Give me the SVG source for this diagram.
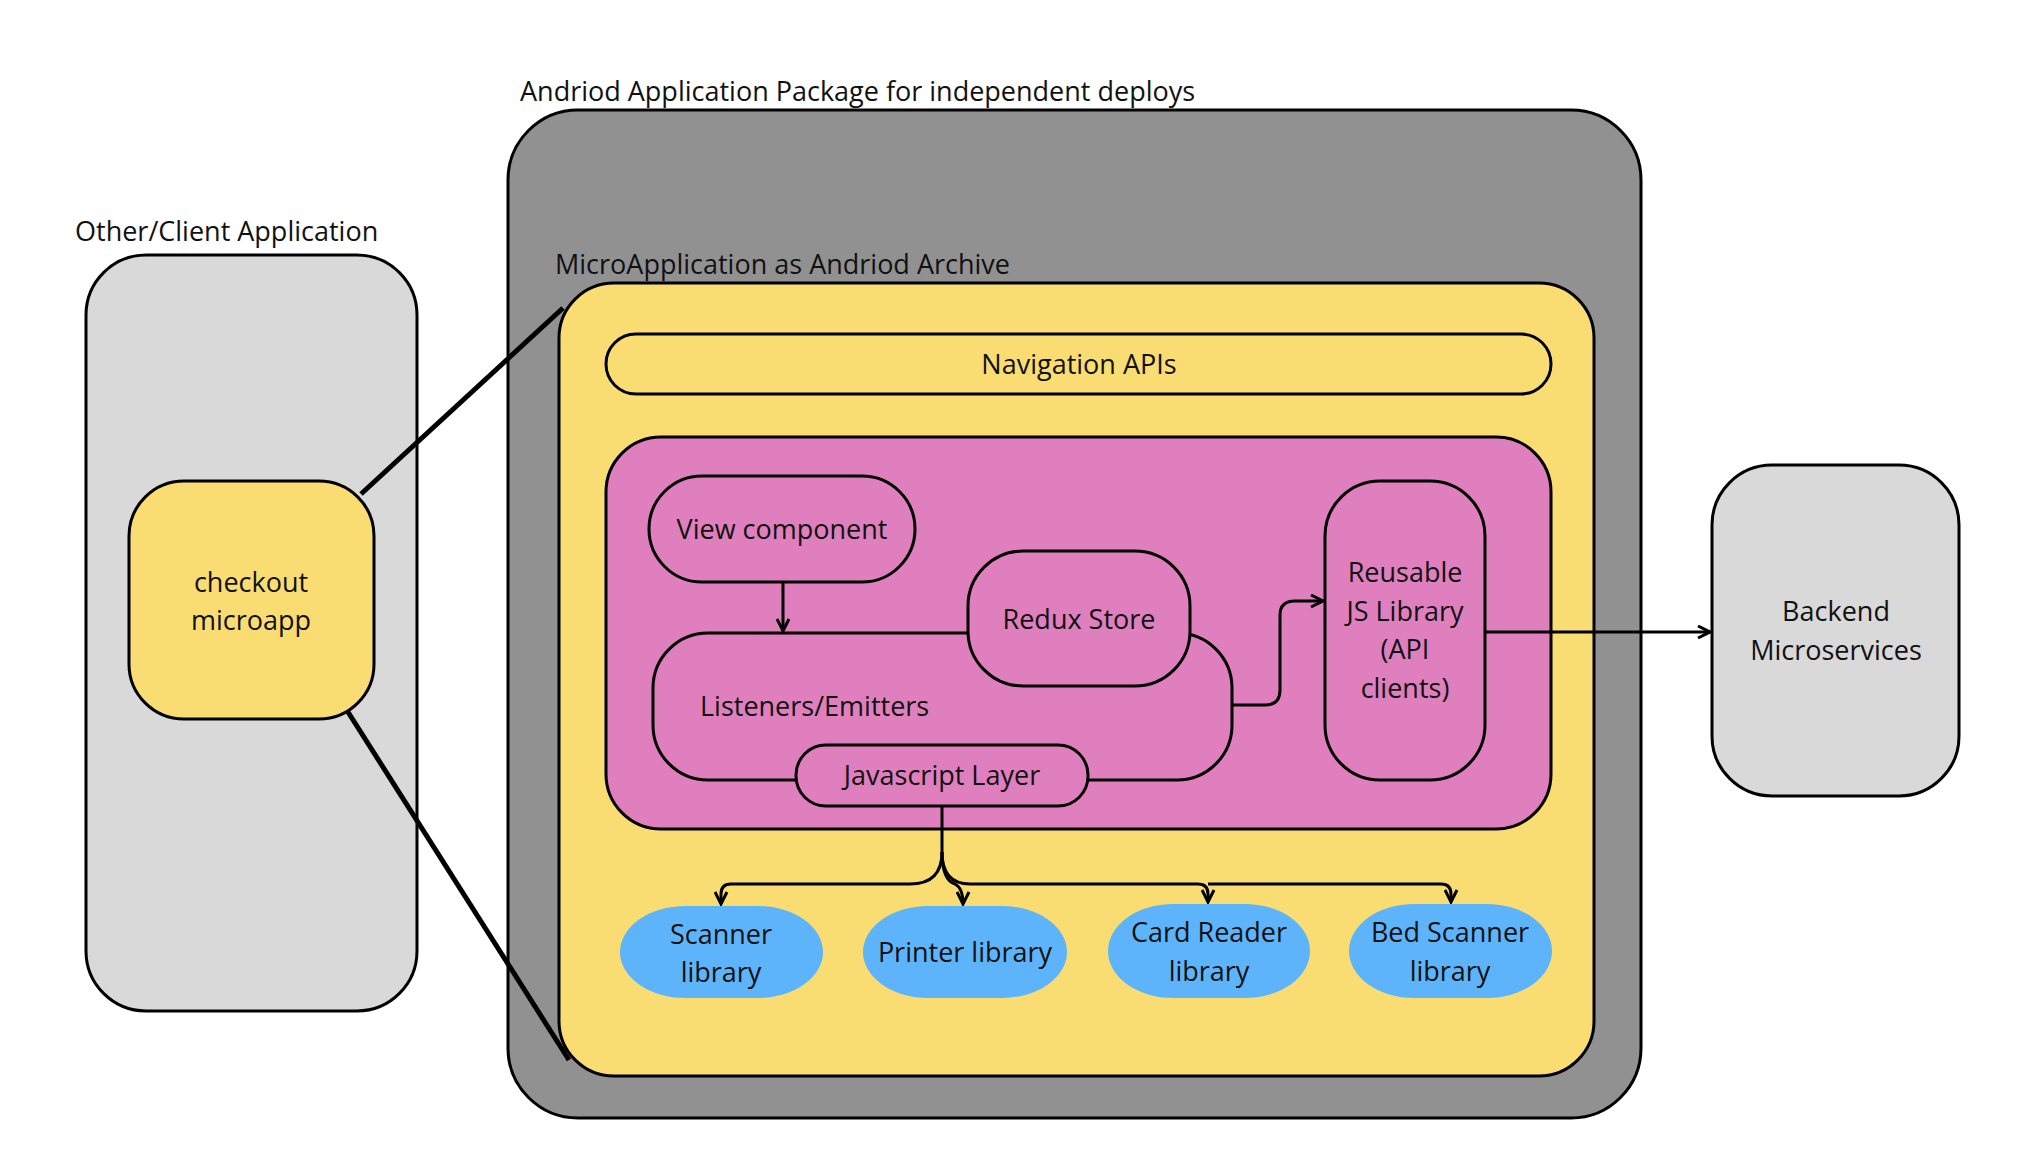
<svg xmlns="http://www.w3.org/2000/svg" width="2028" height="1176" viewBox="0 0 2028 1176">
<style>
text{font-family:"Open Sans","Liberation Sans",sans-serif;font-size:27px;fill:#111}
.c{text-anchor:middle}
.b{stroke:#000;stroke-width:3}
.ln{fill:none;stroke:#000;stroke-width:3}
</style>
<defs><marker id="a" viewBox="0 0 10 10" refX="9" refY="5" markerWidth="5" markerHeight="5" orient="auto"><path d="M1,1 L9,5 L1,9" fill="none" stroke="#000" stroke-width="2"/></marker></defs>
<rect width="2028" height="1176" fill="#fff"/>
<g id="client"><rect class="b" x="86" y="255" width="331" height="756" rx="60" fill="#d9d9d9"/><text x="75" y="241">Other/Client Application</text></g>
<g id="apk"><rect class="b" x="508" y="110" width="1133" height="1008" rx="70" fill="#919191"/><text x="520" y="101">Andriod Application Package for independent deploys</text></g>
<g id="aar"><rect class="b" x="559" y="283" width="1035" height="793" rx="55" fill="#f9dd72"/><text x="555" y="274">MicroApplication as Andriod Archive</text></g>
<g id="nav"><rect class="b" x="606" y="334" width="945" height="60" rx="30" fill="#f9dd72"/><text class="c" x="1079" y="374">Navigation APIs</text></g>
<g id="js-container"><rect class="b" x="606" y="437" width="945" height="392" rx="55" fill="#e07fbd"/></g>
<g id="listeners"><rect class="b" x="653" y="633" width="579" height="147" rx="55" fill="#e07fbd"/><text x="700" y="716">Listeners/Emitters</text></g>
<g id="view"><rect class="b" x="649" y="476" width="266" height="106" rx="53" fill="#e07fbd"/><text class="c" x="782" y="539">View component</text></g>
<g id="redux"><rect class="b" x="968" y="551" width="222" height="135" rx="55" fill="#e07fbd"/><text class="c" x="1079" y="629">Redux Store</text></g>
<g id="jslayer"><rect class="b" x="796" y="745" width="292" height="61" rx="30" fill="#e07fbd"/><text class="c" x="942" y="785">Javascript Layer</text></g>
<g id="reusable"><rect class="b" x="1325" y="481" width="160" height="299" rx="55" fill="#e07fbd"/><text class="c" x="1405" y="582">Reusable</text><text class="c" x="1405" y="621">JS Library</text><text class="c" x="1405" y="659">(API</text><text class="c" x="1405" y="698">clients)</text></g>
<g id="backend"><rect class="b" x="1712" y="465" width="247" height="331" rx="60" fill="#d9d9d9"/><text class="c" x="1836" y="621">Backend</text><text class="c" x="1836" y="660">Microservices</text></g>
<g id="checkout"><rect class="b" x="129" y="481" width="245" height="238" rx="55" fill="#f9dd72"/><text class="c" x="251" y="592">checkout</text><text class="c" x="251" y="630">microapp</text></g>
<g id="scanner"><rect x="620" y="906" width="203" height="92" rx="65" fill="#5db4fa"/><text class="c" x="721" y="944">Scanner</text><text class="c" x="721" y="982">library</text></g>
<g id="printer"><rect x="863" y="906" width="204" height="92" rx="65" fill="#5db4fa"/><text class="c" x="965" y="962">Printer library</text></g>
<g id="card"><rect x="1108" y="904" width="202" height="94" rx="65" fill="#5db4fa"/><text class="c" x="1209" y="942">Card Reader</text><text class="c" x="1209" y="981">library</text></g>
<g id="bed"><rect x="1349" y="904" width="203" height="94" rx="65" fill="#5db4fa"/><text class="c" x="1450" y="942">Bed Scanner</text><text class="c" x="1450" y="981">library</text></g>
<g id="connectors">
<path d="M361,494 L563,308" fill="none" stroke="#000" stroke-width="5"/>
<path d="M348,712 L569,1060" fill="none" stroke="#000" stroke-width="5"/>
<path class="ln" d="M783,582 V631" marker-end="url(#a)"/>
<path class="ln" d="M1232,705 H1265 Q1280,705 1280,690 V615 Q1280,601 1295,601 H1323" marker-end="url(#a)"/>
<path class="ln" d="M1485,632 H1710" marker-end="url(#a)"/>
<path class="ln" d="M942,806 V852 Q942,884 910,884 H731 Q721,884 721,894 V904" marker-end="url(#a)"/>
<path class="ln" d="M942,852 Q942,880 955,884 Q963,888 963,904" marker-end="url(#a)"/>
<path class="ln" d="M942,852 Q942,884 970,884 H1198 Q1208,884 1208,894 V902" marker-end="url(#a)"/>
<path class="ln" d="M1208,884 H1441 Q1451,884 1451,894 V902" marker-end="url(#a)"/>
</g>
</svg>
